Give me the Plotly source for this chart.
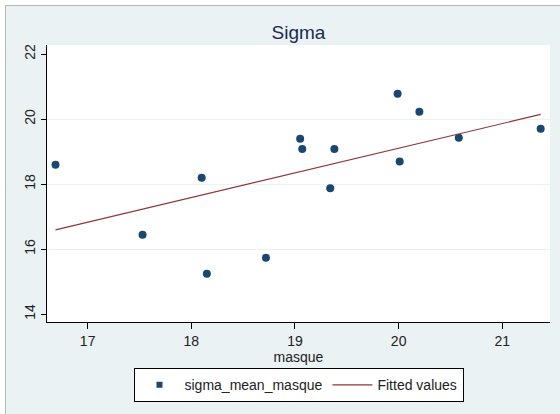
import plotly.graph_objects as go

# data
masque = [16.69, 17.53, 18.10, 18.15, 18.72, 19.05, 19.07, 19.34, 19.38, 19.99, 20.01, 20.20, 20.58, 21.37]
sigma_mean_masque = [18.59, 16.44, 18.19, 15.24, 15.73, 19.39, 19.08, 17.87, 19.08, 20.78, 18.69, 20.22, 19.42, 19.70]
fit_x = [16.69, 21.37]
fit_y = [16.59, 20.14]
x_ticks = [17, 18, 19, 20, 21]
y_ticks = [14, 16, 18, 20, 22]
y_grid = [16, 18, 20]

BG = "#EAF2F3"
NAVY = "#1A476F"
FONT = "Liberation Sans, Arial, sans-serif"

fig = go.Figure()
fig.add_trace(go.Scatter(
    x=masque, y=sigma_mean_masque, mode="markers", name="sigma_mean_masque",
    marker=dict(color=NAVY, size=8, symbol="circle"), showlegend=False,
))
# legend-only entry (Stata shows a small square symbol in the key)
fig.add_trace(go.Scatter(
    x=[None], y=[None], mode="markers", name="sigma_mean_masque",
    marker=dict(color=NAVY, size=6, symbol="square"),
))
fig.add_trace(go.Scatter(
    x=fit_x, y=fit_y, mode="lines", name="Fitted values",
    line=dict(color="#90353B", width=1.2),
))
# invisible trace for grid overlay axis
fig.add_trace(go.Scatter(x=[None], y=[None], yaxis="y2", showlegend=False, hoverinfo="skip"))

fig.update_layout(
    width=560, height=414,
    margin=dict(l=47, r=10, t=45, b=92),
    paper_bgcolor=BG, plot_bgcolor="white",
    font=dict(family=FONT, size=13, color="#222222"),
    title=dict(text="Sigma", x=0.5, xanchor="center", xref="paper",
               y=1 - 32 / 414, yanchor="middle",
               font=dict(size=19, color="#1C2C50", family=FONT)),
    xaxis=dict(range=[16.608, 21.46], tickvals=x_ticks, showgrid=False, zeroline=False,
               showline=True, linecolor="black", linewidth=1,
               ticks="outside", ticklen=6, tickcolor="black",
               tickfont=dict(size=14, color="#222222"),
               title=dict(text="masque", font=dict(size=14, color="#222222"), standoff=2)),
    yaxis=dict(range=[13.754, 22.277], tickvals=y_ticks, showgrid=False, zeroline=False,
               showline=True, linecolor="black", linewidth=1,
               ticks="outside", ticklen=5, tickcolor="black", tickangle=-90,
               tickfont=dict(size=14, color="#222222")),
    yaxis2=dict(overlaying="y", matches="y", range=[13.754, 22.277], tickvals=y_grid,
                showgrid=True, gridcolor=BG, gridwidth=1, showticklabels=False,
                ticks="", zeroline=False, showline=False),
    legend=dict(orientation="h", x=0.5, xanchor="center", y=-0.167, yanchor="top",
                bgcolor="white", bordercolor="black", borderwidth=1,
                font=dict(size=14, color="#222222", family=FONT),
                itemwidth=40, tracegroupgap=0),
    showlegend=True,
)

# outer frame: white strips top-left and thin gray border
fig.add_shape(type="rect", xref="paper", yref="paper", x0=-1, x1=(5 - 47) / 503, y0=-1, y1=2,
              fillcolor="white", line=dict(width=0), layer="below")
fig.add_shape(type="rect", xref="paper", yref="paper", x0=-1, x1=2, y0=(321.7 - 5.5) / 276.7, y1=2,
              fillcolor="white", line=dict(width=0), layer="below")
fig.add_shape(type="line", xref="paper", yref="paper", x0=(5.5 - 47) / 503, x1=(5.5 - 47) / 503,
              y0=-1, y1=(321.7 - 5.5) / 276.7, line=dict(color="#B4B4B4", width=1))
fig.add_shape(type="line", xref="paper", yref="paper", x0=(5.5 - 47) / 503, x1=2,
              y0=(321.7 - 5.5) / 276.7, y1=(321.7 - 5.5) / 276.7, line=dict(color="#B4B4B4", width=1))

fig.write_html("out.html")
